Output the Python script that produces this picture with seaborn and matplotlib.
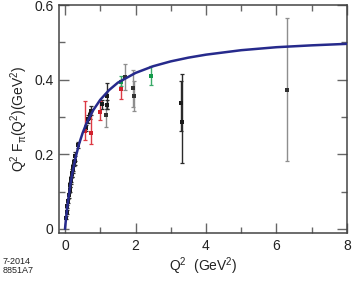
import matplotlib
matplotlib.use('Agg')
import matplotlib.pyplot as plt
import seaborn as sns
import pandas as pd
from matplotlib.ticker import MultipleLocator

# theory curve
curve_q2 = [0, 0.025, 0.05, 0.075, 0.1, 0.15, 0.2, 0.3, 0.4, 0.5, 0.6, 0.8, 1.0, 1.25,
            1.5, 1.75, 2.0, 2.5, 3.0, 3.5, 4.0, 5.0, 6.0, 7.0, 8.0]
curve_val = [0, 0.024, 0.046, 0.066, 0.084, 0.117, 0.145, 0.191, 0.228, 0.257, 0.281,
             0.318, 0.346, 0.372, 0.392, 0.405, 0.418, 0.436, 0.449, 0.459, 0.467,
             0.479, 0.487, 0.492, 0.496]

# black points (small errors)
black_q2 = [0.03, 0.05, 0.07, 0.09, 0.11, 0.13, 0.15, 0.17, 0.18, 0.20, 0.21, 0.22, 0.23,
            0.25, 0.27, 0.29, 0.36, 0.60, 0.66, 0.72, 0.75, 1.05, 1.19, 1.20, 3.28, 3.32]
black_val = [0.030, 0.045, 0.060, 0.075, 0.090, 0.105, 0.118, 0.128, 0.133, 0.148, 0.150,
             0.160, 0.165, 0.178, 0.183, 0.195, 0.225, 0.271, 0.295, 0.304, 0.317, 0.335,
             0.357, 0.333, 0.337, 0.287]
black_lo = [0.026, 0.040, 0.055, 0.069, 0.084, 0.098, 0.111, 0.120, 0.125, 0.140, 0.140,
            0.150, 0.155, 0.168, 0.171, 0.183, 0.217, 0.263, 0.285, 0.294, 0.305, 0.320,
            0.322, 0.321, 0.262, 0.177]
black_hi = [0.034, 0.050, 0.065, 0.081, 0.096, 0.112, 0.125, 0.136, 0.141, 0.156, 0.160,
            0.170, 0.175, 0.188, 0.195, 0.207, 0.233, 0.279, 0.305, 0.314, 0.329, 0.346,
            0.392, 0.345, 0.397, 0.415]

# gray points
gray_q2 = [1.16, 1.69, 1.92, 1.97, 6.29]
gray_val = [0.304, 0.408, 0.377, 0.357, 0.373]
gray_lo = [0.273, 0.373, 0.328, 0.315, 0.183]
gray_hi = [0.335, 0.443, 0.426, 0.397, 0.564]

# red points
red_q2 = [0.57, 0.73, 0.99, 1.60]
red_val = [0.262, 0.256, 0.313, 0.374]
red_lo = [0.238, 0.227, 0.293, 0.348]
red_hi = [0.344, 0.315, 0.342, 0.400]

# green points
green_q2 = [1.58, 2.43]
green_val = [0.395, 0.411]
green_lo = [0.383, 0.386]
green_hi = [0.410, 0.436]

sns.set_style('ticks')
plt.rcParams['font.family'] = ['Liberation Sans', 'DejaVu Sans']
plt.rcParams['mathtext.fontset'] = 'custom'
plt.rcParams['mathtext.rm'] = 'Liberation Sans'
plt.rcParams['mathtext.it'] = 'Liberation Sans:italic'

fig = plt.figure(figsize=(3.54, 2.81), dpi=100)
ax = fig.add_axes([0.1667, 0.171, 0.8135, 0.811])

def draw_set(q2, val, lo, hi, bar_color, dot_color):
    df = pd.DataFrame({'q2': q2, 'val': val, 'lo': lo, 'hi': hi})
    ax.errorbar(df['q2'], df['val'], yerr=[df['val'] - df['lo'], df['hi'] - df['val']],
                fmt='none', ecolor=bar_color, elinewidth=1.0, capsize=1.5, capthick=0.9, zorder=2)
    sns.scatterplot(data=df, x='q2', y='val', ax=ax, color=dot_color, marker='s', s=6,
                    linewidth=0, zorder=3, legend=False)

draw_set(gray_q2, gray_val, gray_lo, gray_hi, '#8e8e8e', '#333333')
draw_set(black_q2, black_val, black_lo, black_hi, '#2a2a2a', '#1a1a1a')
draw_set(red_q2, red_val, red_lo, red_hi, '#dd3a44', '#d0202c')
draw_set(green_q2, green_val, green_lo, green_hi, '#3aaa68', '#139a4a')

curve = pd.DataFrame({'q2': curve_q2, 'val': curve_val})
sns.lineplot(data=curve, x='q2', y='val', ax=ax, color='#262a8c', linewidth=1.8, zorder=4)

ax.set_xlim(-0.17, 8.0)
ax.set_ylim(-0.011, 0.6)
ax.xaxis.set_major_locator(MultipleLocator(2))
ax.xaxis.set_minor_locator(MultipleLocator(1))
ax.yaxis.set_major_locator(MultipleLocator(0.2))
ax.yaxis.set_minor_locator(MultipleLocator(0.1))
ax.set_xticks([0, 2, 4, 6, 8], ['0', '2', '4', '6', '8'])
ax.set_yticks([0, 0.2, 0.4, 0.6], ['0', '0.2', '0.4', '0.6'])
ax.tick_params(which='both', direction='in', top=True, right=True, color='#666666',
               labelsize=10, labelcolor='#222222', pad=4)
ax.tick_params(which='major', length=7, width=1)
ax.tick_params(which='minor', length=4, width=1)
for sp in ax.spines.values():
    sp.set_color('#444444')
    sp.set_linewidth(1.1)

ax.set_xlabel(r'Q$^{\rm 2}$  (GeV$^{\rm 2}$)', fontsize=10, color='#222222', labelpad=2)
ax.set_ylabel(r'Q$^{\rm 2}$ F$_{\rm \pi}$(Q$^{\rm 2}$)(GeV$^{\rm 2}$)', fontsize=10,
              color='#222222', labelpad=3)

fig.text(0.008, 0.028, '7-2014\n8851A7', fontsize=6.5, color='#222222', linespacing=1.0)

fig.savefig('out.png', dpi=100)
plt.close(fig)
